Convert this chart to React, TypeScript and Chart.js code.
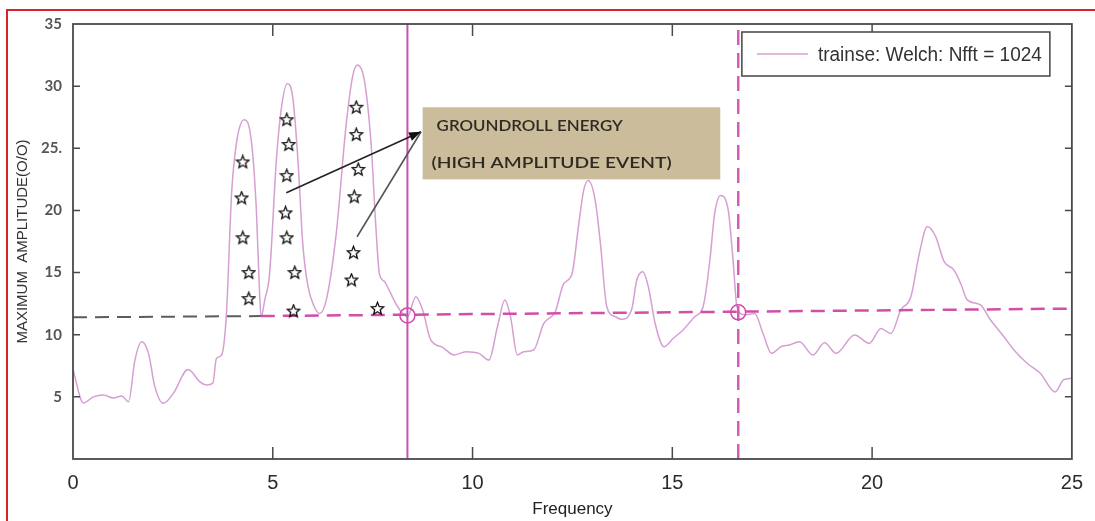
import React, { useEffect, useRef } from 'react';
import { Chart, registerables } from 'chart.js';

Chart.register(...registerables);

// ---- data ----
const freq = [0, 0.26, 0.51, 0.76, 1.01, 1.22, 1.39, 1.55, 1.72, 1.89, 2.05, 2.26, 2.51, 2.88, 3.18, 3.34, 3.5, 3.59, 3.72, 3.84, 3.97, 4.09, 4.28, 4.46, 4.59, 4.67, 4.71, 4.8, 4.92, 5.09, 5.21, 5.36, 5.5, 5.63, 5.75, 5.88, 6.04, 6.17, 6.34, 6.59, 6.83, 7.0, 7.12, 7.29, 7.46, 7.58, 7.67, 7.79, 7.91, 8.08, 8.25, 8.37, 8.58, 8.75, 8.95, 9.24, 9.54, 9.83, 10.16, 10.41, 10.62, 10.81, 10.95, 11.12, 11.28, 11.53, 11.78, 12.07, 12.28, 12.49, 12.65, 12.78, 12.9, 13.07, 13.2, 13.36, 13.57, 13.73, 13.98, 14.11, 14.26, 14.4, 14.57, 14.79, 15.02, 15.27, 15.56, 15.77, 15.94, 16.06, 16.21, 16.4, 16.52, 16.62, 16.81, 17.06, 17.27, 17.48, 17.72, 17.93, 18.18, 18.52, 18.81, 19.1, 19.56, 19.93, 20.22, 20.47, 20.72, 20.97, 21.18, 21.38, 21.59, 21.8, 22.05, 22.22, 22.38, 22.71, 22.96, 23.3, 23.55, 23.88, 24.21, 24.58, 24.79, 25.0];
const amplitude = [7.2, 4.5, 5.0, 5.15, 4.9, 5.07, 4.6, 7.96, 9.44, 8.5, 5.8, 4.48, 5.28, 7.2, 6.2, 5.95, 6.1, 8.1, 8.37, 11.7, 21.4, 25.4, 27.3, 25.7, 20.0, 13.3, 11.45, 12.8, 14.9, 24.05, 28.1, 30.2, 29.1, 24.05, 17.35, 13.9, 12.25, 11.7, 12.8, 18.2, 26.7, 30.8, 31.7, 30.5, 25.4, 18.7, 14.9, 14.3, 13.6, 12.5, 11.7, 11.45, 13.06, 12.0, 9.6, 9.0, 8.37, 8.63, 8.5, 7.96, 10.6, 12.8, 11.45, 8.37, 8.63, 8.77, 10.9, 11.85, 14.1, 14.9, 18.7, 21.6, 22.4, 20.8, 17.35, 12.25, 11.45, 11.24, 12.0, 14.4, 15.07, 13.86, 10.9, 9.03, 9.7, 10.38, 11.45, 12.25, 16.0, 19.77, 21.2, 20.0, 16.0, 12.2, 11.6, 11.7, 10.1, 8.5, 9.03, 9.17, 9.44, 8.37, 9.36, 8.5, 9.98, 9.3, 10.5, 10.1, 12.0, 13.06, 16.5, 18.7, 17.9, 15.9, 15.2, 14.1, 12.8, 12.4, 11.2, 9.84, 8.77, 7.7, 6.9, 5.4, 6.36, 6.5];

const seriesLabel = 'trainse: Welch: Nfft = 1024';

const starX = [4.25, 4.22, 4.25, 4.4, 4.4, 5.35, 5.4, 5.35, 5.32, 5.35, 5.55, 5.52, 7.09, 7.09, 7.14, 7.04, 7.02, 6.97, 7.62];
const starY = [23.9, 21.0, 17.8, 15.0, 12.9, 27.3, 25.3, 22.8, 19.8, 17.8, 15.0, 11.9, 28.3, 26.1, 23.3, 21.1, 16.6, 14.4, 12.1];

const thresholdGrayX = [0, 4.7];
const thresholdGrayY = [11.4, 11.5];
const thresholdPinkX = [4.7, 25];
const thresholdPinkY = [11.5, 12.1];

const cutoffSolidX = 8.37;
const cutoffDashedX = 16.65;
const crossX = [8.37, 16.65];
const crossY = [11.55, 11.8];

const xTicks = [0, 5, 10, 15, 20, 25];
const yTickLabels: Record<number, string> = { 5: '5', 10: '10', 15: '15', 20: '20', 25: '25.', 30: '30', 35: '35' };

const noteLines = ['GROUNDROLL ENERGY', '(HIGH AMPLITUDE EVENT)'];
const noteBoxX = [8.75, 16.2];
const noteBoxY = [28.3, 22.5];
const arrowTip = { x: 8.71, y: 26.33 };
const arrowTails = [
  { x: 5.34, y: 21.42 },
  { x: 7.11, y: 17.88 },
];

const CURVE = '#d69fd2';
const PINK = '#d24fa8';
const SANS = '"Liberation Sans", Arial, sans-serif';
const CALIBRI = 'Lato, "Liberation Sans", sans-serif';

function makeStar(): HTMLCanvasElement {
  const c = document.createElement('canvas');
  c.width = 15;
  c.height = 15;
  const g = c.getContext('2d')!;
  g.strokeStyle = '#111';
  g.lineWidth = 1.3;
  g.beginPath();
  const cx = 7.5, cy = 7.8, R = 6.6, r = 2.9;
  for (let i = 0; i < 10; i++) {
    const a = -Math.PI / 2 + (i * Math.PI) / 5;
    const rad = i % 2 === 0 ? R : r;
    const px = cx + rad * Math.cos(a);
    const py = cy + rad * Math.sin(a);
    if (i === 0) g.moveTo(px, py);
    else g.lineTo(px, py);
  }
  g.closePath();
  g.stroke();
  return c;
}

function fillTextFit(ctx: CanvasRenderingContext2D, text: string, x: number, y: number, width: number) {
  const w = ctx.measureText(text).width;
  ctx.save();
  ctx.translate(x, y);
  ctx.scale(width / w, 1);
  ctx.fillText(text, 0, 0);
  ctx.restore();
}

const decorPlugin = {
  id: 'decor',
  beforeDatasetsDraw(chart: any) {
    const { ctx, scales } = chart;
    const xs = scales.x, ys = scales.y;
    const l = xs.getPixelForValue(noteBoxX[0]);
    const r = xs.getPixelForValue(noteBoxX[1]);
    const t = ys.getPixelForValue(noteBoxY[0]);
    const b = ys.getPixelForValue(noteBoxY[1]);
    ctx.save();
    ctx.fillStyle = '#cbbd9c';
    ctx.fillRect(l, t, r - l, b - t);
    ctx.fillStyle = '#2e2a22';
    ctx.font = '600 16px ' + CALIBRI;
    ctx.textBaseline = 'middle';
    fillTextFit(ctx, noteLines[0], l + 14, t + 19, 186);
    fillTextFit(ctx, noteLines[1], l + 9, t + 56, 240);
    ctx.restore();
  },
  afterDraw(chart: any) {
    const { ctx, chartArea: ca, scales } = chart;
    const xs = scales.x, ys = scales.y;
    ctx.save();
    // axes box
    ctx.strokeStyle = '#4a4a4a';
    ctx.lineWidth = 1.8;
    ctx.strokeRect(ca.left, ca.top, ca.right - ca.left, ca.bottom - ca.top);
    // inner ticks
    ctx.lineWidth = 1.5;
    ctx.beginPath();
    for (const v of [5, 10, 15, 20, 25, 30]) {
      const py = ys.getPixelForValue(v);
      ctx.moveTo(ca.left, py);
      ctx.lineTo(ca.left + 7, py);
      ctx.moveTo(ca.right, py);
      ctx.lineTo(ca.right - 7, py);
    }
    for (const v of [5, 10, 15, 20]) {
      const px = xs.getPixelForValue(v);
      ctx.moveTo(px, ca.bottom);
      ctx.lineTo(px, ca.bottom - 12);
      ctx.moveTo(px, ca.top);
      ctx.lineTo(px, ca.top + 12);
    }
    ctx.stroke();

    // arrows
    const tx = xs.getPixelForValue(arrowTip.x);
    const ty = ys.getPixelForValue(arrowTip.y);
    ctx.fillStyle = '#111';
    ctx.lineWidth = 1.6;
    arrowTails.forEach((p, i) => {
      const sx = xs.getPixelForValue(p.x);
      const sy = ys.getPixelForValue(p.y);
      ctx.strokeStyle = i === 0 ? '#222' : '#555';
      ctx.beginPath();
      ctx.moveTo(sx, sy);
      ctx.lineTo(tx, ty);
      ctx.stroke();
    });
    {
      const p = arrowTails[0];
      const sx = xs.getPixelForValue(p.x);
      const sy = ys.getPixelForValue(p.y);
      const a = Math.atan2(ty - sy, tx - sx);
      const L = 12, W = 4.5;
      ctx.beginPath();
      ctx.moveTo(tx, ty);
      ctx.lineTo(tx - L * Math.cos(a) + W * Math.sin(a), ty - L * Math.sin(a) - W * Math.cos(a));
      ctx.lineTo(tx - L * Math.cos(a) - W * Math.sin(a), ty - L * Math.sin(a) + W * Math.cos(a));
      ctx.closePath();
      ctx.fill();
    }

    // legend
    const lr = ca.right - 22;
    const ll = lr - 308;
    const lt = ca.top + 8;
    const lh = 44;
    ctx.fillStyle = '#fff';
    ctx.fillRect(ll, lt, lr - ll, lh);
    ctx.strokeStyle = '#444';
    ctx.lineWidth = 1.5;
    ctx.strokeRect(ll, lt, lr - ll, lh);
    ctx.strokeStyle = CURVE;
    ctx.lineWidth = 1.5;
    ctx.beginPath();
    ctx.moveTo(ll + 15, lt + lh / 2);
    ctx.lineTo(ll + 66, lt + lh / 2);
    ctx.stroke();
    ctx.fillStyle = '#333';
    ctx.font = '20px ' + SANS;
    ctx.textBaseline = 'middle';
    fillTextFit(ctx, chart.data.datasets[0].label, ll + 76, lt + lh / 2 + 1, 224);
    ctx.restore();
  },
};

export default function App() {
  const ref = useRef<HTMLCanvasElement | null>(null);

  useEffect(() => {
    if (!ref.current) return;
    const star = makeStar();
    const chart = new Chart(ref.current, {
      type: 'scatter',
      data: {
        datasets: [
          {
            label: seriesLabel,
            data: freq.map((f, i) => ({ x: f, y: amplitude[i] })),
            showLine: true,
            borderColor: CURVE,
            borderWidth: 1.5,
            pointRadius: 0,
            cubicInterpolationMode: 'monotone',
            order: 5,
          } as any,
          {
            label: 'threshold-gray',
            data: thresholdGrayX.map((x, i) => ({ x, y: thresholdGrayY[i] })),
            showLine: true,
            borderColor: '#5c5c5c',
            borderWidth: 2,
            borderDash: [14, 8],
            pointRadius: 0,
            order: 3,
          },
          {
            label: 'threshold-pink',
            data: thresholdPinkX.map((x, i) => ({ x, y: thresholdPinkY[i] })),
            showLine: true,
            borderColor: PINK,
            borderWidth: 2.5,
            borderDash: [14, 8],
            pointRadius: 0,
            order: 3,
          },
          {
            label: 'cutoff-solid',
            data: [{ x: cutoffSolidX, y: 0 }, { x: cutoffSolidX, y: 35 }],
            showLine: true,
            borderColor: '#c952b1',
            borderWidth: 2,
            pointRadius: 0,
            order: 2,
          },
          {
            label: 'cutoff-dashed',
            data: [{ x: cutoffDashedX, y: 0 }, { x: cutoffDashedX, y: 35 }],
            showLine: true,
            borderColor: '#d45cb6',
            borderWidth: 2.5,
            borderDash: [15, 8],
            pointRadius: 0,
            order: 2,
          },
          {
            label: 'crossings',
            data: crossX.map((x, i) => ({ x, y: crossY[i] })),
            showLine: false,
            pointStyle: 'circle',
            pointRadius: 7.5,
            pointBorderColor: '#d04aa6',
            pointBackgroundColor: 'rgba(0,0,0,0)',
            pointBorderWidth: 1.5,
            order: 1,
          },
          {
            label: 'stars',
            data: starX.map((x, i) => ({ x, y: starY[i] })),
            showLine: false,
            pointStyle: star,
            pointRadius: 7,
            order: 0,
          } as any,
        ],
      },
      options: {
        animation: false,
        responsive: true,
        maintainAspectRatio: false,
        layout: { padding: { left: 0, top: 24, right: 20, bottom: 0 } },
        plugins: {
          legend: { display: false },
          tooltip: { enabled: false },
        },
        scales: {
          x: {
            type: 'linear',
            min: 0,
            max: 25,
            afterFit: (s: any) => {
              s.height = 62;
            },
            afterBuildTicks: (s: any) => {
              s.ticks = xTicks.map((v) => ({ value: v }));
            },
            grid: { display: false, drawTicks: false },
            border: { display: false },
            ticks: {
              padding: 12,
              color: '#2b2b2b',
              font: { family: SANS, size: 20 },
              callback: (v: any) => String(v),
            },
            title: {
              display: true,
              text: 'Frequency',
              color: '#222',
              padding: { top: 0, bottom: 1 },
              font: { family: SANS, size: 17 },
            },
          },
          y: {
            type: 'linear',
            min: 0,
            max: 35,
            afterFit: (s: any) => {
              s.width = 73;
            },
            afterBuildTicks: (s: any) => {
              s.ticks = Object.keys(yTickLabels).map((k) => ({ value: Number(k) }));
            },
            grid: { display: false, drawTicks: false },
            border: { display: false },
            ticks: {
              padding: 11,
              color: '#555',
              font: { family: CALIBRI, size: 15, weight: 'bold' },
              callback: (v: any) => yTickLabels[Number(v)] ?? '',
            },
            title: {
              display: true,
              text: 'MAXIMUM  AMPLITUDE(O/O)',
              color: '#333',
              padding: { top: 14, bottom: 0 },
              font: { family: SANS, size: 15 },
            },
          },
        },
      } as any,
      plugins: [decorPlugin],
    });
    return () => chart.destroy();
  }, []);

  return (
    <div style={{ position: 'fixed', left: 0, top: 0, width: 1095, height: 521, background: '#fff' }}>
      <canvas ref={ref} />
      <div
        style={{
          position: 'absolute',
          left: 6,
          top: 9,
          width: 1089,
          height: 512,
          borderTop: '2px solid #d8232a',
          borderLeft: '2px solid #d8232a',
          pointerEvents: 'none',
        }}
      />
    </div>
  );
}
